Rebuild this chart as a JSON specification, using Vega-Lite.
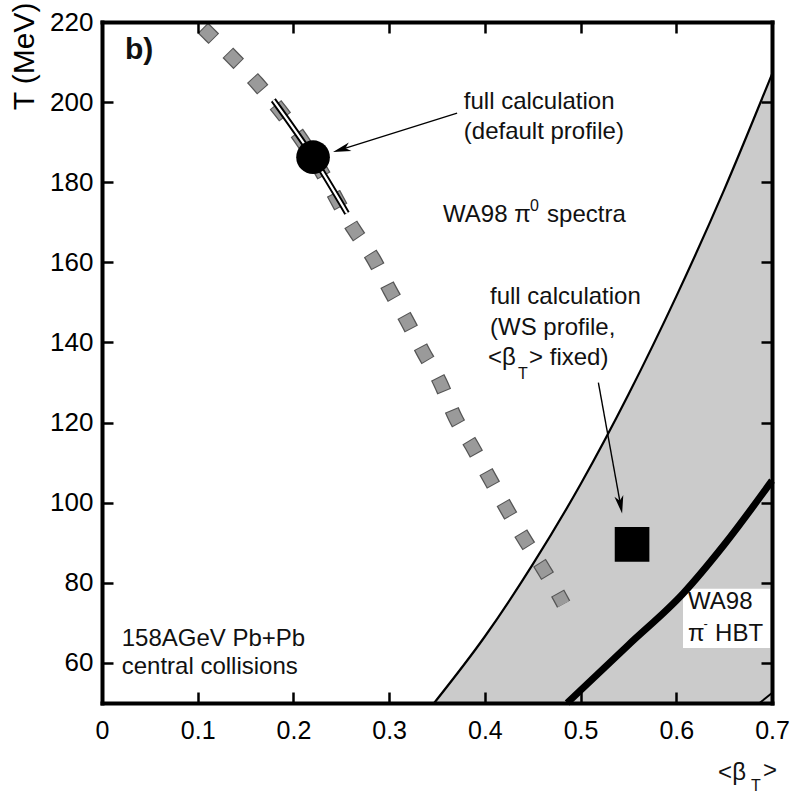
{
  "$schema": "https://vega.github.io/schema/vega-lite/v6.json",
  "width": 670,
  "height": 681,
  "autosize": {"type": "none"},
  "padding": {"left": 102, "top": 22, "right": 22, "bottom": 91},
  "background": "white",
  "config": {
    "view": {"stroke": null},
    "axis": {
      "grid": false, "domainColor": "black", "domainWidth": 4, "domainCap": "square",
      "labelFont": "Liberation Sans", "labelColor": "black", "labelFlush": false, "labelOverlap": false,
      "titleFont": "Liberation Sans", "titleColor": "black"
    },
    "text": {"font": "Liberation Sans"}
  },
  "datasets": {
    "band": [
      {"b": 0.347, "T": 50}, {"b": 0.4, "T": 66.6}, {"b": 0.45, "T": 84.6}, {"b": 0.5, "T": 104.6},
      {"b": 0.55, "T": 127}, {"b": 0.6, "T": 151.5}, {"b": 0.65, "T": 178.1}, {"b": 0.7, "T": 207}
    ],
    "hbt": [
      {"b": 0.486, "T": 50}, {"b": 0.55, "T": 64.5}, {"b": 0.607, "T": 77.3}, {"b": 0.65, "T": 89.5}, {"b": 0.7, "T": 105.5}
    ],
    "corner": [{"b": 0.687, "T": 50}, {"b": 0.7, "T": 52.5}],
    "fit": [
      {"b": 0.1054, "T": 218.53}, {"b": 0.1108, "T": 217.25}, {"b": 0.1369, "T": 211.0}, {"b": 0.162, "T": 204.75},
      {"b": 0.2205, "T": 186.25}, {"b": 0.2626, "T": 168.43}, {"b": 0.2835, "T": 160.93}, {"b": 0.3009, "T": 153.0},
      {"b": 0.3184, "T": 145.5}, {"b": 0.3357, "T": 137.58}, {"b": 0.3532, "T": 130.08}, {"b": 0.3689, "T": 121.33},
      {"b": 0.3863, "T": 114.25}, {"b": 0.4054, "T": 105.93}, {"b": 0.4229, "T": 98.43}, {"b": 0.4402, "T": 91.33},
      {"b": 0.4611, "T": 83.43}, {"b": 0.4786, "T": 76.33}, {"b": 0.4823, "T": 74.68}
    ],
    "ell": [{"b": 0.179, "T": 200.5}, {"b": 0.2205, "T": 186.25}, {"b": 0.256, "T": 172.25}],
    "circ": [{"b": 0.2205, "T": 186.25}],
    "wsq": [{"b": 0.5538, "T": 89.6}],
    "arrows": [
      {"b": 0.371, "T": 197.25, "b2": 0.2503, "T2": 188.2},
      {"b": 0.5186, "T": 130, "b2": 0.5417, "T2": 99.5}
    ],
    "head1": [{"b": 0.2503, "T": 188.2}],
    "head2": [{"b": 0.5417, "T": 99.5}],
    "box": [{"b": 0.607, "b2": 0.698, "T": 78.5, "T2": 63.75}],
    "txt": [
      {"b": 0.378, "T": 200, "label": "full calculation"},
      {"b": 0.378, "T": 192.5, "label": "(default profile)"},
      {"b": 0.3563, "T": 171.75, "label": "WA98 π"},
      {"b": 0.465, "T": 171.75, "label": "spectra"},
      {"b": 0.4054, "T": 151.25, "label": "full calculation"},
      {"b": 0.4054, "T": 143.5, "label": "(WS profile,"},
      {"b": 0.4033, "T": 136, "label": "<β"},
      {"b": 0.4462, "T": 136, "label": "> fixed)"},
      {"b": 0.0206, "T": 65.9, "label": "158AGeV Pb+Pb"},
      {"b": 0.0206, "T": 59, "label": "central collisions"},
      {"b": 0.6123, "T": 75.1, "label": "WA98"},
      {"b": 0.6123, "T": 67.1, "label": "π"},
      {"b": 0.6405, "T": 67.1, "label": "HBT"},
      {"b": 0.6437, "T": 32.5, "label": "<β"},
      {"b": 0.6907, "T": 33, "label": ">"}
    ],
    "small": [
      {"b": 0.4472, "T": 174, "label": "0"},
      {"b": 0.4347, "T": 132.1, "label": "T"},
      {"b": 0.678, "T": 29.25, "label": "T"}
    ],
    "minus": [{"b": 0.6285, "T": 69.8, "label": "-"}],
    "panel": [{"b": 0.024, "T": 213, "label": "b)"}]
  },
  "layer": [
    {
      "data": {"name": "band"},
      "mark": {"type": "area", "color": "#cbcbcb", "interpolate": "monotone"},
      "encoding": {
        "x": {"field": "b", "type": "quantitative", "scale": {"domain": [0, 0.7], "nice": false, "zero": false},
              "axis": {"orient": "top", "offset": -11, "domain": false, "values": [0.1, 0.2, 0.3, 0.4, 0.5, 0.6], "labels": false, "title": null,
                       "ticks": true, "tickSize": 11, "tickColor": "black", "tickWidth": 2.5, "tickOpacity": 1, "zindex": 2}},
        "y": {"field": "T", "type": "quantitative", "scale": {"domain": [50, 220], "nice": false, "zero": false},
              "axis": {"orient": "right", "offset": -11, "domain": false, "values": [60, 80, 100, 120, 140, 160, 180, 200], "labels": false, "title": null,
                       "ticks": true, "tickSize": 11, "tickColor": "black", "tickWidth": 2.5, "tickOpacity": 1, "zindex": 2}},
        "y2": {"datum": 50}
      }
    },
    {
      "data": {"name": "box"},
      "mark": {"type": "rect", "color": "white"},
      "encoding": {
        "x": {"field": "b", "type": "quantitative",
              "axis": {"orient": "bottom", "offset": -11, "domain": false, "values": [0.1, 0.2, 0.3, 0.4, 0.5, 0.6], "labels": false, "title": null,
                       "ticks": true, "tickSize": 11, "tickColor": "black", "tickWidth": 2.5, "tickOpacity": 1, "zindex": 2}},
        "x2": {"field": "b2"},
        "y": {"field": "T", "type": "quantitative",
              "axis": {"orient": "left", "offset": -11, "domain": false, "values": [60, 80, 100, 120, 140, 160, 180, 200], "labels": false, "title": null,
                       "ticks": true, "tickSize": 11, "tickColor": "black", "tickWidth": 2.5, "tickOpacity": 1, "zindex": 2}},
        "y2": {"field": "T2"}
      }
    },
    {
      "data": {"name": "band"},
      "mark": {"type": "line", "color": "black", "strokeWidth": 2.2, "interpolate": "monotone"},
      "encoding": {
        "x": {"field": "b", "type": "quantitative",
              "axis": {"orient": "bottom", "ticks": false, "zindex": 1, "values": [0, 0.1, 0.2, 0.3, 0.4, 0.5, 0.6, 0.7], "format": "~g", "title": null, "labelFontSize": 25, "labelPadding": 15}},
        "y": {"field": "T", "type": "quantitative",
              "axis": {"orient": "left", "ticks": false, "zindex": 1, "values": [60, 80, 100, 120, 140, 160, 180, 200, 220], "labelFontSize": 26, "labelPadding": 9,
                       "title": "T (MeV)", "titleFontSize": 30, "titleFontWeight": "normal", "titleAngle": -90, "titleAlign": "right",
                       "titleBaseline": "middle", "titleX": -78, "titleY": -20}}
      }
    },
    {
      "data": {"name": "hbt"},
      "mark": {"type": "line", "color": "black", "strokeWidth": 7, "interpolate": "monotone"},
      "encoding": {
        "x": {"field": "b", "type": "quantitative", "axis": {"orient": "top", "zindex": 1, "ticks": false, "labels": false, "title": null}},
        "y": {"field": "T", "type": "quantitative", "axis": {"orient": "right", "zindex": 1, "ticks": false, "labels": false, "title": null}}
      }
    },
    {
      "data": {"name": "corner"},
      "mark": {"type": "line", "color": "black", "strokeWidth": 2},
      "encoding": {"x": {"field": "b", "type": "quantitative", "axis": null}, "y": {"field": "T", "type": "quantitative", "axis": null}}
    },
    {
      "data": {"name": "fit"},
      "mark": {"type": "line", "color": "#555555", "strokeWidth": 15, "strokeDash": [15.5, 19.8], "interpolate": "monotone"},
      "encoding": {"x": {"field": "b", "type": "quantitative", "axis": null}, "y": {"field": "T", "type": "quantitative", "axis": null}}
    },
    {
      "data": {"name": "fit"},
      "mark": {"type": "line", "color": "#9a9a9a", "strokeWidth": 12.5, "strokeDash": [13.5, 21.8], "strokeDashOffset": -1, "interpolate": "monotone"},
      "encoding": {"x": {"field": "b", "type": "quantitative", "axis": null}, "y": {"field": "T", "type": "quantitative", "axis": null}}
    },
    {
      "data": {"name": "ell"},
      "mark": {"type": "line", "color": "black", "strokeWidth": 6, "interpolate": "monotone"},
      "encoding": {"x": {"field": "b", "type": "quantitative", "axis": null}, "y": {"field": "T", "type": "quantitative", "axis": null}}
    },
    {
      "data": {"name": "ell"},
      "mark": {"type": "line", "color": "white", "strokeWidth": 2.2, "interpolate": "monotone"},
      "encoding": {"x": {"field": "b", "type": "quantitative", "axis": null}, "y": {"field": "T", "type": "quantitative", "axis": null}}
    },
    {
      "data": {"name": "circ"},
      "mark": {"type": "point", "shape": "circle", "filled": true, "color": "black", "opacity": 1, "size": 1134},
      "encoding": {"x": {"field": "b", "type": "quantitative", "axis": null}, "y": {"field": "T", "type": "quantitative", "axis": null}}
    },
    {
      "data": {"name": "wsq"},
      "mark": {"type": "point", "shape": "square", "filled": true, "color": "black", "opacity": 1, "size": 1200},
      "encoding": {"x": {"field": "b", "type": "quantitative", "axis": null}, "y": {"field": "T", "type": "quantitative", "axis": null}}
    },
    {
      "data": {"name": "arrows"},
      "mark": {"type": "rule", "color": "black", "strokeWidth": 1.4},
      "encoding": {
        "x": {"field": "b", "type": "quantitative", "axis": null}, "x2": {"field": "b2"},
        "y": {"field": "T", "type": "quantitative", "axis": null}, "y2": {"field": "T2"}
      }
    },
    {
      "data": {"name": "head1"},
      "mark": {"type": "point", "shape": "M0,-1L0.5,1L0,0.45L-0.5,1Z", "filled": true, "color": "black", "opacity": 1, "size": 324, "angle": 252.5},
      "encoding": {"x": {"field": "b", "type": "quantitative", "axis": null}, "y": {"field": "T", "type": "quantitative", "axis": null}}
    },
    {
      "data": {"name": "head2"},
      "mark": {"type": "point", "shape": "M0,-1L0.5,1L0,0.45L-0.5,1Z", "filled": true, "color": "black", "opacity": 1, "size": 324, "angle": 169.6},
      "encoding": {"x": {"field": "b", "type": "quantitative", "axis": null}, "y": {"field": "T", "type": "quantitative", "axis": null}}
    },
    {
      "data": {"name": "txt"},
      "mark": {"type": "text", "align": "left", "baseline": "middle", "fontSize": 24, "color": "#111111"},
      "encoding": {"x": {"field": "b", "type": "quantitative", "axis": null}, "y": {"field": "T", "type": "quantitative", "axis": null}, "text": {"field": "label"}}
    },
    {
      "data": {"name": "small"},
      "mark": {"type": "text", "align": "left", "baseline": "middle", "fontSize": 16, "color": "#111111"},
      "encoding": {"x": {"field": "b", "type": "quantitative", "axis": null}, "y": {"field": "T", "type": "quantitative", "axis": null}, "text": {"field": "label"}}
    },
    {
      "data": {"name": "minus"},
      "mark": {"type": "text", "align": "left", "baseline": "middle", "fontSize": 13, "color": "#111111"},
      "encoding": {"x": {"field": "b", "type": "quantitative", "axis": null}, "y": {"field": "T", "type": "quantitative", "axis": null}, "text": {"field": "label"}}
    },
    {
      "data": {"name": "panel"},
      "mark": {"type": "text", "align": "left", "baseline": "middle", "fontSize": 30, "fontWeight": "bold", "color": "#111111"},
      "encoding": {"x": {"field": "b", "type": "quantitative", "axis": null}, "y": {"field": "T", "type": "quantitative", "axis": null}, "text": {"field": "label"}}
    }
  ],
  "resolve": {"axis": {"x": "independent", "y": "independent"}}
}
